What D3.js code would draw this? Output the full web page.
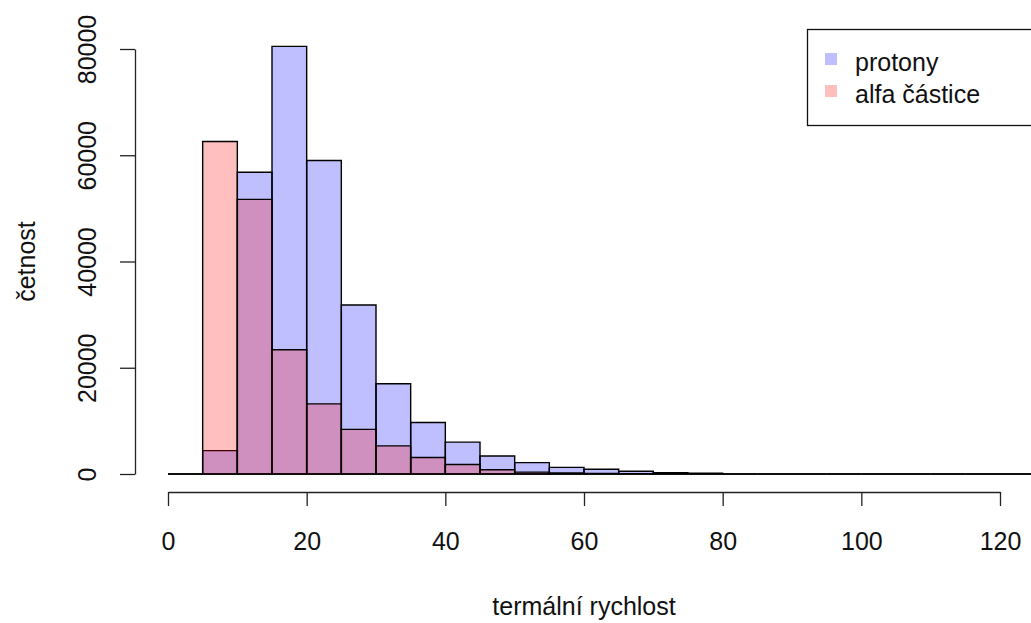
<!DOCTYPE html>
<html lang="cs">
  <head>
    <meta charset="utf-8">
    <script src="https://cdn.jsdelivr.net/npm/d3@7"></script>
    <style>
      body {
        margin: 0;
        background: #fff;
      }
      svg {
        display: block;
        font-family: 'Liberation Sans', Arial, sans-serif;
      }
    </style>
  </head>
  <body>
    <svg></svg>
  </body>
  <script>

    // bins: left edges, width 5
    const binStarts = [0, 5, 10, 15, 20, 25, 30, 35, 40, 45, 50, 55, 60, 65, 70, 75,
                       80, 85, 90, 95, 100, 105, 110, 115, 120];
    const binWidth = 5;
    const protony = [0, 4400, 56800, 80500, 59000, 31800, 17000, 9700, 6000, 3400, 2150, 1250,
                     900, 520, 250, 150, 0, 0, 0, 0, 0, 0, 0, 0, 0];
    const alfa = [0, 62600, 51700, 23400, 13200, 8400, 5300, 3100, 1800, 800, 350, 200,
                  120, 60, 30, 15, 0, 0, 0, 0, 0, 0, 0, 0, 0];
    const xTicks = [0, 20, 40, 60, 80, 100, 120];
    const yTicks = [0, 20000, 40000, 60000, 80000];
    const legendLabels = ['protony', 'alfa částice'];

    const width = 1031;
    const height = 623;
    const fontSize = 25;

    const svg = d3.select('svg')
        .attr('width', width)
        .attr('height', height);

    const x = d3.scaleLinear().domain([0, 120]).range([168, 1000]);
    const y = d3.scaleLinear().domain([0, 80000]).range([474, 49]);

    const colors = ['rgba(0,0,255,0.25)', 'rgba(255,0,0,0.25)'];

    // bars as closed paths, so empty bins still show as a flat line
    function barPath(d, i) {
      const x0 = x(binStarts[i]), x1 = x(binStarts[i] + binWidth);
      return 'M' + x0 + ',' + y(0) + 'V' + y(d) + 'H' + x1 + 'V' + y(0) + 'Z';
    }

    // histograms: protons first, alpha on top
    [protony, alfa].forEach((series, k) => {
      svg.append('g').selectAll('path')
          .data(series)
        .enter().append('path')
          .attr('d', barPath)
          .attr('fill', colors[k])
          .attr('stroke', '#000')
          .attr('stroke-width', 1.4);
    });

    // x axis (R style: line from first to last tick)
    const xAxis = svg.append('g')
        .attr('transform', 'translate(0,492)')
        .call(d3.axisBottom(x).tickValues(xTicks).tickSize(14).tickSizeOuter(0).tickPadding(26));
    xAxis.select('.domain').attr('stroke', '#222').attr('stroke-width', 1.3);
    xAxis.selectAll('.tick line').attr('stroke', '#222').attr('stroke-width', 1.3);
    xAxis.selectAll('text')
        .attr('font-size', fontSize)
        .attr('font-family', "'Liberation Sans', Arial, sans-serif")
        .attr('fill', '#111');

    // y axis with rotated labels
    const yAxis = svg.append('g')
        .attr('transform', 'translate(135,0)')
        .call(d3.axisLeft(y).tickValues(yTicks).tickSize(15).tickSizeOuter(0).tickFormat(d3.format('d')));
    yAxis.select('.domain').attr('stroke', '#222').attr('stroke-width', 1.3);
    yAxis.selectAll('.tick line').attr('stroke', '#222').attr('stroke-width', 1.3);
    yAxis.selectAll('text')
        .attr('font-size', fontSize)
        .attr('font-family', "'Liberation Sans', Arial, sans-serif")
        .attr('fill', '#111')
        .attr('x', null)
        .attr('dy', null)
        .attr('text-anchor', 'middle')
        .attr('transform', 'translate(-39,0) rotate(-90)');

    // axis titles
    svg.append('text')
        .attr('x', (x(0) + x(120)) / 2)
        .attr('y', 615)
        .attr('text-anchor', 'middle')
        .attr('font-size', fontSize)
        .attr('fill', '#111')
        .text('termální rychlost');

    svg.append('text')
        .attr('transform', 'translate(35,' + (y(0) + y(80000)) / 2 + ') rotate(-90)')
        .attr('text-anchor', 'middle')
        .attr('font-size', fontSize)
        .attr('fill', '#111')
        .text('četnost');

    // legend
    const legend = svg.append('g');
    legend.append('rect')
        .attr('x', 807.5)
        .attr('y', 29.5)
        .attr('width', 240)
        .attr('height', 96)
        .attr('fill', '#fff')
        .attr('stroke', '#111')
        .attr('stroke-width', 1.3);

    const items = legend.selectAll('g.item')
        .data(legendLabels)
      .enter().append('g')
        .attr('class', 'item')
        .attr('transform', (d, i) => 'translate(0,' + (i * 32) + ')');
    items.append('rect')
        .attr('x', 825)
        .attr('y', 53)
        .attr('width', 12)
        .attr('height', 12)
        .attr('fill', (d, i) => colors[i]);
    items.append('text')
        .attr('x', 855)
        .attr('y', 71)
        .attr('font-size', fontSize)
        .attr('fill', '#111')
        .text(d => d);
  </script>
</html>
